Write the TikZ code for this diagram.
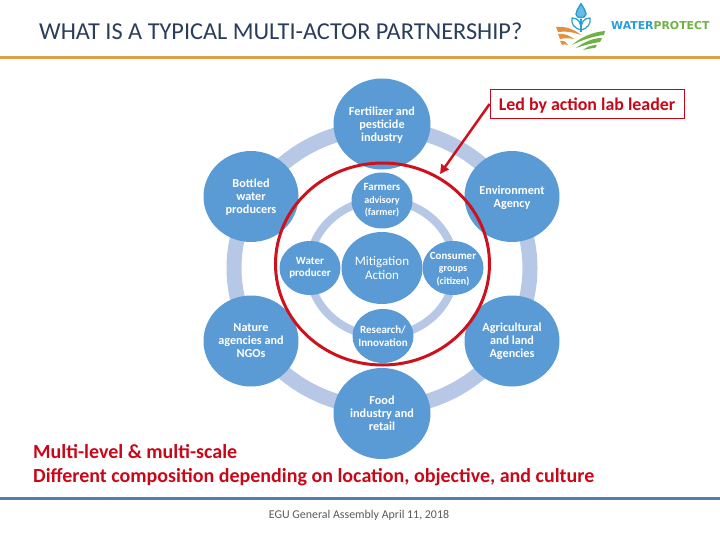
\documentclass[tikz,border=0pt]{standalone}
\usepackage{fontspec}
\setmainfont{Carlito}
\newfontfamily\logofont{DejaVu Sans}
\usetikzlibrary{arrows.meta,shapes.geometric}
\definecolor{discblue}{RGB}{91,155,213}
\definecolor{ringblue}{RGB}{182,200,229}
\definecolor{leadred}{RGB}{200,8,24}
\definecolor{labred}{RGB}{205,18,30}
\definecolor{titlenavy}{RGB}{42,62,92}
\definecolor{ruleorange}{RGB}{224,160,72}
\definecolor{ruleblue}{RGB}{86,126,172}
\definecolor{logoblue}{RGB}{41,158,214}
\definecolor{logogreen}{RGB}{110,178,70}
\tikzset{
  lowered/.style={text depth=0pt},
  bigdisc/.style={ellipse,fill=discblue,text=white,minimum width=95pt,minimum height=91pt,inner sep=-10pt,align=center,font=\fontsize{12.2}{13}\selectfont\bfseries},
  smalldisc/.style={ellipse,fill=discblue,text=white,minimum width=61pt,minimum height=54pt,inner sep=-10pt,align=center,font=\fontsize{11}{12.5}\selectfont\bfseries},
  redtext/.style={text=leadred,inner sep=0pt,font=\fontsize{20}{24}\selectfont\bfseries,anchor=west}
}
\begin{document}
\begin{tikzpicture}[x=1pt,y=-1pt]
    \useasboundingbox (0,0) rectangle (720,540);
    \node [anchor=west,inner sep=0pt,text=titlenavy,font=\fontsize{24.3}{28}\selectfont] (title) at (39,31) {WHAT IS A TYPICAL MULTI-ACTOR PARTNERSHIP?};
    \draw [ruleorange,line width=3pt] (0,57.5) -- (720,57.5);
    \draw [ruleblue,line width=3pt] (0,498.5) -- (720,498.5);

    \draw [logoblue,line width=1.4pt,fill=logoblue!70] (581,3.5) .. controls (578,9) and (576,11) .. (576,14) .. controls (576,19) and (586,19) .. (586,14) .. controls (586,11) and (584,9) .. (581,3.5);
    \draw [logoblue,line width=1.2pt] (581,19) -- (581,32);
    \draw [logoblue,line width=1.2pt] (581,30) .. controls (574,28) and (571,24) .. (572,18) .. controls (578,18) and (581,22) .. (581,30);
    \draw [logoblue,line width=1.2pt] (581,30) .. controls (588,28) and (591,24) .. (590,18) .. controls (584,18) and (581,22) .. (581,30);
    \fill [ruleorange!90!red] (556,27) .. controls (565,26) and (574,29) .. (581,35) .. controls (573,32) and (565,31) .. (558,32) -- cycle;
    \fill [ruleorange!90!red] (558,34) .. controls (565,33) and (570,36) .. (574,39) .. controls (569,38) and (564,38) .. (560,39) -- cycle;
    \fill [ruleorange!90!red] (560,41) .. controls (564,40) and (566,42) .. (568,45) .. controls (565,44) and (563,44) .. (562,45) -- cycle;
    \fill [logogreen] (605,31) .. controls (593,32) and (581,37) .. (572,45) .. controls (582,40) and (594,36) .. (604,35) -- cycle;
    \fill [logogreen] (602,38) .. controls (593,38) and (584,42) .. (576,48) .. controls (585,45) and (593,43) .. (600,42) -- cycle;
    \fill [logogreen] (597,45) .. controls (591,45) and (587,47) .. (583,50) .. controls (588,49) and (592,48) .. (595,48) -- cycle;
    \node [anchor=west,inner sep=0pt,font=\fontsize{10.9}{12}\selectfont\logofont\bfseries] (logotext) at (611,25.5) {\textcolor{logoblue}{WATER}\textcolor{logogreen}{PROTECT}};

    \draw [ringblue,line width=15pt] (382,268) ellipse [x radius=148,y radius=140];
    \draw [ringblue,line width=8pt] (382,268) ellipse [x radius=73,y radius=68];

    \node [bigdisc,lowered,minimum width=97pt] (fertilizer) at (382,124) {Fertilizer and\\pesticide\\industry};
    \node [bigdisc,lowered] (bottled) at (251,196.5) {Bottled\\water\\producers};
    \node [bigdisc,lowered] (environment) at (512,196.5) {Environment\\Agency};
    \node [bigdisc] (nature) at (251,341) {Nature\\agencies and\\NGOs};
    \node [bigdisc] (agricultural) at (512,341) {Agricultural\\and land\\Agencies};
    \node [bigdisc,minimum width=97pt] (food) at (382,413.5) {Food\\industry and\\retail};

    \node [smalldisc,minimum height=56pt] (farmers) at (382,200.5) {Farmers\\{\fontsize{10}{12}\selectfont advisory}\\{\fontsize{10}{12}\selectfont (farmer)}};
    \node [smalldisc] (water) at (310,268) {Water\\producer};
    \node [smalldisc,lowered] (consumer) at (453,268) {Consumer\\{\fontsize{10}{11.5}\selectfont groups}\\{\fontsize{10}{11.5}\selectfont (citizen)}};
    \node [smalldisc] (research) at (383,336) {Research/\\Innovation};
    \node [smalldisc,minimum width=81pt,minimum height=72pt,font=\fontsize{13}{14.5}\selectfont] (mitigation) at (382,268) {Mitigation\\Action};

    \node [ellipse,draw=labred,line width=3pt,minimum width=214pt,minimum height=202pt,inner sep=0pt] (lab) at (382.5,264) {};

    \node [draw=leadred,fill=white,line width=0.8pt,text=leadred,minimum width=194pt,minimum height=29pt,inner sep=0pt,text height=15pt,font=\fontsize{17.9}{20}\selectfont\bfseries] (leader) at (587,104) {Led by action lab leader};
    \coordinate (tip) at (440,174);
    \draw [-{Triangle[length=9pt,width=9pt]},labred,line width=2.5pt] (leader.west) -- (tip);

    \node [redtext] (scale) at (33,452) {Multi-level \& multi-scale};
    \node [redtext] (composition) at (33,477) {Different composition depending on location, objective, and culture};
    \node [text=black!65,font=\fontsize{11.9}{14}\selectfont] (footer) at (359,515) {EGU General Assembly April 11, 2018};
\end{tikzpicture}
\end{document}
